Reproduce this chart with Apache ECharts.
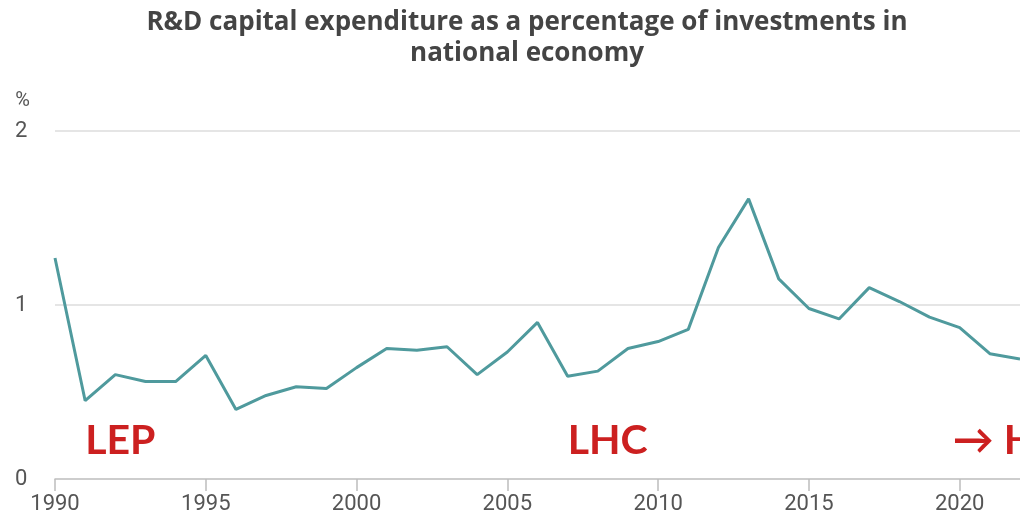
<!DOCTYPE html>
<html>
<head>
<meta charset="utf-8">
<script src="https://cdn.jsdelivr.net/npm/echarts@6/dist/echarts.min.js"></script>
<style>
  html, body { margin: 0; padding: 0; background: #ffffff; }
  #chart { width: 1020px; height: 516px; }
</style>
</head>
<body>
<div id="chart"></div>
<script>
// Years on the horizontal axis
const years = [1990, 1991, 1992, 1993, 1994, 1995, 1996, 1997, 1998, 1999,
               2000, 2001, 2002, 2003, 2004, 2005, 2006, 2007, 2008, 2009,
               2010, 2011, 2012, 2013, 2014, 2015, 2016, 2017, 2018, 2019,
               2020, 2021, 2022];

// R&D capital expenditure, % of investments in national economy
const shares = [1.27, 0.45, 0.60, 0.56, 0.56, 0.71, 0.40, 0.48, 0.53, 0.52,
                0.64, 0.75, 0.74, 0.76, 0.60, 0.73, 0.90, 0.59, 0.62, 0.75,
                0.79, 0.86, 1.33, 1.61, 1.15, 0.98, 0.92, 1.10, 1.02, 0.93,
                0.87, 0.72, 0.69];

// Tick labels
const xTicks = [1990, 1995, 2000, 2005, 2010, 2015, 2020];
const yTicks = [0, 1, 2];

// Collider era markers
const eraYears = [1991, 2007, 2020];
const eraLabels = ['LEP', 'LHC', '\u2192 HL-LHC'];
const eraLevel = [0.22, 0.22, 0.22];

const titleLines = [
  'R&D capital expenditure as a percentage of investments in',
  'national economy'
];

const chart = echarts.init(document.getElementById('chart'), null, { renderer: 'canvas' });

const option = {
  animation: false,
  backgroundColor: '#ffffff',
  title: {
    text: titleLines.join('\n'),
    left: 522,
    top: 2,
    textAlign: 'center',
    textStyle: {
      fontFamily: 'Open Sans',
      fontWeight: 'bold',
      fontSize: 26,
      lineHeight: 31,
      color: '#444444'
    }
  },
  grid: { left: 55, right: 0, top: 131, bottom: 37, containLabel: false },
  xAxis: {
    type: 'value',
    min: 1990,
    max: 2022,
    interval: 5,
    splitLine: { show: false },
    axisLine: { show: true, lineStyle: { color: '#bdbdbd', width: 1.5 } },
    axisTick: {
      show: true,
      length: 12,
      customValues: xTicks,
      lineStyle: { color: '#bdbdbd', width: 1.5 }
    },
    axisLabel: {
      customValues: xTicks,
      margin: 14,
      fontFamily: 'Roboto',
      fontSize: 22,
      color: '#555555',
      formatter: v => String(v)
    }
  },
  yAxis: {
    type: 'value',
    min: 0,
    max: 2,
    interval: 1,
    name: '%',
    nameLocation: 'end',
    nameGap: 30,
    nameTextStyle: {
      fontFamily: 'Roboto',
      fontSize: 20,
      color: '#555555',
      align: 'right',
      verticalAlign: 'middle',
      padding: [0, 25, 0, 0]
    },
    axisLine: { show: false },
    axisTick: { show: false },
    splitLine: {
      show: true,
      lineStyle: { color: '#dddddd', width: 1.5 },
      showMinLine: false
    },
    axisLabel: {
      customValues: yTicks,
      align: 'left',
      margin: 40,
      fontFamily: 'Roboto',
      fontSize: 22,
      color: '#555555'
    }
  },
  series: [
    {
      type: 'line',
      data: years.map((y, i) => [y, shares[i]]),
      symbol: 'none',
      clip: true,
      lineStyle: { color: '#4f9a9d', width: 3 },
      markPoint: {
        symbol: 'circle',
        symbolSize: 0,
        silent: true,
        data: eraYears.map((y, i) => ({
          coord: [y, eraLevel[i]],
          value: eraLabels[i],
          label: { offset: i === 2 ? [-7, 0] : [0, 0] }
        })),
        label: {
          show: true,
          position: 'right',
          distance: 0,
          formatter: p => p.value,
          fontFamily: 'Lato',
          fontWeight: 'bold',
          fontSize: 41,
          color: '#cc2020'
        }
      }
    }
  ]
};

chart.setOption(option);
</script>
</body>
</html>
